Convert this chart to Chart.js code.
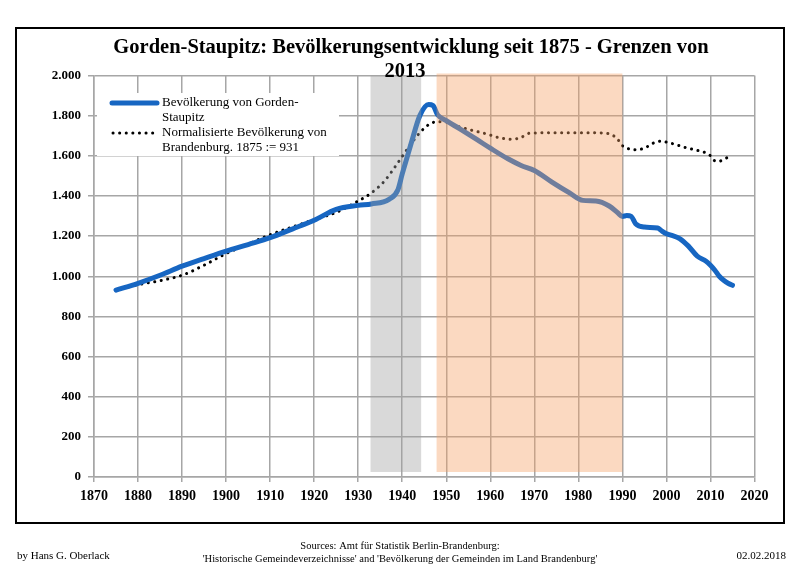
<!DOCTYPE html>
<html>
<head>
<meta charset="utf-8">
<script src="https://cdn.jsdelivr.net/npm/chart.js@4/dist/chart.umd.min.js"></script>
<style>
  html, body { margin: 0; padding: 0; background: #fff; }
  canvas { display: block; }
</style>
</head>
<body>
<canvas id="population-chart" width="800" height="566"></canvas>
<script>
//data
const gordenYears = [1875, 1880, 1885, 1890, 1895, 1900, 1905, 1910, 1915, 1920,
  1925, 1930, 1933, 1937, 1939, 1940, 1942, 1944, 1946, 1947, 1948, 1950, 1953,
  1957, 1960, 1964, 1967, 1970, 1974, 1978, 1981, 1984, 1987, 1989, 1990, 1991,
  1992, 1993, 1995, 1998, 1999, 2000, 2001, 2003, 2005, 2007, 2009, 2010, 2011,
  2012, 2013, 2014, 2015];
const gordenValues = [931, 965, 1005, 1050, 1088, 1125, 1158, 1192, 1235, 1279,
  1333, 1353, 1360, 1383, 1430, 1510, 1660, 1800, 1855, 1850, 1805, 1775, 1735,
  1680, 1638, 1585, 1552, 1527, 1469, 1415, 1378, 1375, 1350, 1315, 1298, 1302,
  1298, 1262, 1245, 1240, 1225, 1212, 1205, 1188, 1150, 1100, 1075, 1055, 1030,
  1000, 980, 965, 955];

const brandenburgYears = [1875, 1880, 1885, 1890, 1895, 1900, 1905, 1910, 1915,
  1920, 1925, 1930, 1933, 1936, 1939, 1942, 1944, 1946, 1948, 1950, 1952, 1956,
  1959, 1962, 1965, 1967, 1969, 1975, 1983, 1987, 1989, 1990, 1991, 1993, 1995,
  1996, 1997, 1999, 2000, 2002, 2004, 2007, 2009, 2010, 2011, 2012, 2013, 2015];
const brandenburgValues = [931, 958, 978, 1005, 1055, 1113, 1160, 1207, 1245,
  1282, 1318, 1375, 1415, 1475, 1565, 1660, 1715, 1755, 1770, 1768, 1751, 1726,
  1710, 1690, 1682, 1692, 1713, 1715, 1715, 1710, 1680, 1650, 1638, 1630, 1638,
  1650, 1663, 1673, 1668, 1657, 1643, 1627, 1614, 1600, 1575, 1573, 1583, 1603];

const nsPeriod = [1932.8, 1944.3];
const gdrPeriod = [1947.8, 1990];

const titleLines = ['Gorden-Staupitz: Bevölkerungsentwicklung seit 1875 - Grenzen von', '2013'];
const legendLabels = [
  ['Bevölkerung von Gorden-', 'Staupitz'],
  ['Normalisierte Bevölkerung von', 'Brandenburg. 1875 := 931']
];
const sourceLines = [
  'Sources: Amt für Statistik Berlin-Brandenburg:',
  '\'Historische Gemeindeverzeichnisse\' and \'Bevölkerung der Gemeinden im Land Brandenburg\''
];
const authorText = 'by Hans G. Oberlack';
const dateText = '02.02.2018';

const serif = '"Liberation Serif", "DejaVu Serif", serif';
const blue = '#1766c2';
const gridGray = '#a6a6a6';

function toPoints(xs, ys) {
  return xs.map((x, i) => ({x: x, y: ys[i]}));
}

function formatThousands(v) {
  return String(v).replace(/\B(?=(\d{3})+(?!\d))/g, '.');
}

//plugins
const whiteBackground = {
  id: 'whiteBackground',
  beforeDraw(chart) {
    const ctx = chart.ctx;
    ctx.save();
    ctx.fillStyle = '#fff';
    ctx.fillRect(0, 0, chart.width, chart.height);
    ctx.restore();
  }
};

const periodBands = {
  id: 'periodBands',
  afterDatasetsDraw(chart) {
    const ctx = chart.ctx;
    const x = chart.scales.x;
    const y = chart.scales.y;
    const top = y.getPixelForValue(2000);
    const bottom = y.getPixelForValue(25);
    ctx.save();
    ctx.fillStyle = 'rgba(160,160,160,0.4)';
    let x0 = x.getPixelForValue(nsPeriod[0]);
    let x1 = x.getPixelForValue(nsPeriod[1]);
    ctx.fillRect(x0, top, x1 - x0, bottom - top);
    ctx.fillStyle = 'rgba(245,160,100,0.4)';
    x0 = x.getPixelForValue(gdrPeriod[0]);
    x1 = x.getPixelForValue(gdrPeriod[1]);
    ctx.fillRect(x0, top - 2, x1 - x0, bottom - top + 2);

    // legend box
    ctx.fillStyle = '#fff';
    ctx.fillRect(97, 93, 242, 63);
    ctx.lineCap = 'round';
    ctx.strokeStyle = blue;
    ctx.lineWidth = 5;
    ctx.beginPath();
    ctx.moveTo(112, 103);
    ctx.lineTo(157, 103);
    ctx.stroke();
    ctx.strokeStyle = '#000';
    ctx.lineWidth = 3;
    ctx.setLineDash([0.1, 6.5]);
    ctx.beginPath();
    ctx.moveTo(113, 133);
    ctx.lineTo(158, 133);
    ctx.stroke();
    ctx.setLineDash([]);
    ctx.fillStyle = '#000';
    ctx.font = '13px ' + serif;
    ctx.textBaseline = 'middle';
    ctx.textAlign = 'left';
    ctx.fillText(legendLabels[0][0], 162, 103);
    ctx.fillText(legendLabels[0][1], 162, 118);
    ctx.fillText(legendLabels[1][0], 162, 133);
    ctx.fillText(legendLabels[1][1], 162, 148);
    ctx.restore();
  }
};

const frameAndTexts = {
  id: 'frameAndTexts',
  afterDraw(chart) {
    const ctx = chart.ctx;
    ctx.save();
    ctx.strokeStyle = '#000';
    ctx.lineWidth = 2;
    ctx.strokeRect(16, 28, 768, 495);

    ctx.fillStyle = '#000';
    ctx.textAlign = 'center';
    ctx.textBaseline = 'middle';
    ctx.font = 'bold 20.5px ' + serif;
    ctx.fillText(titleLines[0], 411, 48);
    ctx.fillText(titleLines[1], 405, 72);

    ctx.font = '10.5px ' + serif;
    ctx.fillText(sourceLines[0], 400, 546);
    ctx.fillText(sourceLines[1], 400, 559);

    ctx.font = '11px ' + serif;
    ctx.textAlign = 'left';
    ctx.fillText(authorText, 17, 556);
    ctx.textAlign = 'right';
    ctx.fillText(dateText, 786, 556);
    ctx.restore();
  }
};

//chart
const populationChart = new Chart(document.getElementById('population-chart'), {
  type: 'line',
  data: {
    datasets: [{
      label: legendLabels[0].join(''),
      data: toPoints(gordenYears, gordenValues),
      borderColor: blue,
      borderWidth: 5,
      borderCapStyle: 'round',
      borderJoinStyle: 'round',
      pointRadius: 0,
      cubicInterpolationMode: 'monotone',
      fill: false
    }, {
      label: legendLabels[1].join(' '),
      data: toPoints(brandenburgYears, brandenburgValues),
      borderColor: '#000',
      borderWidth: 3,
      borderDash: [0.1, 6.5],
      borderCapStyle: 'round',
      pointRadius: 0,
      cubicInterpolationMode: 'monotone',
      fill: false
    }]
  },
  options: {
    responsive: false,
    animation: false,
    layout: {
      padding: {top: 75.5, right: 45.5, left: 0, bottom: 0}
    },
    plugins: {
      legend: {display: false},
      title: {display: false},
      tooltip: {enabled: false}
    },
    scales: {
      x: {
        type: 'linear',
        min: 1870,
        max: 2020,
        afterFit(scale) { scale.height = 89; },
        ticks: {
          stepSize: 10,
          color: '#000',
          padding: 6,
          maxRotation: 0,
          font: {family: serif, size: 14, weight: 'bold'},
          callback: v => String(v)
        },
        grid: {color: gridGray, lineWidth: 1.5, tickLength: 5},
        border: {color: gridGray, width: 1.5}
      },
      y: {
        min: 0,
        max: 2000,
        afterFit(scale) { scale.width = 94; },
        ticks: {
          stepSize: 200,
          color: '#000',
          padding: 7,
          font: {family: serif, size: 13, weight: 'bold'},
          callback: v => formatThousands(v)
        },
        grid: {color: gridGray, lineWidth: 1.5, tickLength: 6},
        border: {color: gridGray, width: 1.5}
      }
    }
  },
  plugins: [whiteBackground, periodBands, frameAndTexts]
});
</script>
</body>
</html>
